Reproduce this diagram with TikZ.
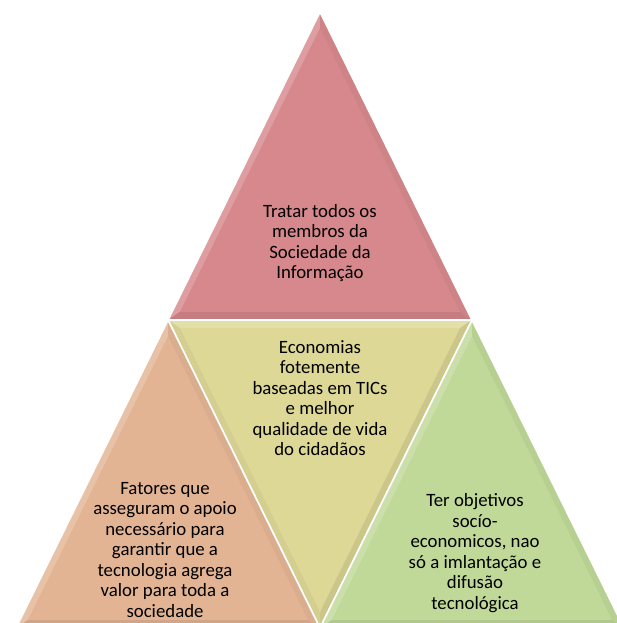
\documentclass[tikz,border=0pt]{standalone}
\usepackage{fontspec}
\setmainfont{Carlito}
\usetikzlibrary{calc}

\definecolor{topred}{RGB}{214,136,140}
\definecolor{midyellow}{RGB}{221,216,150}
\definecolor{leftpeach}{RGB}{226,180,148}
\definecolor{rightgreen}{RGB}{192,216,152}

\tikzset{
	label text/.style={font=\fontsize{18.8}{20.5}\selectfont, align=center, text=black},
	gap/.style={draw=white, line width=1.6pt, line join=miter},
}

% bevelled triangle: corners #1 #2 #3, colour #4
% edge #1-#2 light, #2-#3 dark, #3-#1 medium
\newcommand{\bevtri}[4]{%
	\coordinate (tc) at (barycentric cs:#1=1,#2=1,#3=1);
	\coordinate (t1) at ($(#1)!0.08!(tc)$);
	\coordinate (t2) at ($(#2)!0.08!(tc)$);
	\coordinate (t3) at ($(#3)!0.08!(tc)$);
	\fill[#4] (#1)--(#2)--(#3)--cycle;
	\fill[#4!82!white] (#1)--(#2)--(t2)--(t1)--cycle;
	\fill[#4!92!black] (#2)--(#3)--(t3)--(t2)--cycle;
	\fill[#4!96!black] (#3)--(#1)--(t1)--(t3)--cycle;
	\fill[#4] (t1)--(t2)--(t3)--cycle;
	\draw[gap] (#1)--(#2)--(#3)--cycle;
}

\begin{document}
\begin{tikzpicture}[x=1pt,y=-1pt]
	\clip (0,0) rectangle (617,623);
	\coordinate (apex) at (320,12);
	\coordinate (ml) at (168,320);
	\coordinate (mr) at (472,320);
	\coordinate (bl) at (16,628);
	\coordinate (bm) at (320,628);
	\coordinate (br) at (624,628);

	\bevtri{apex}{ml}{mr}{topred}
	\bevtri{ml}{mr}{bm}{midyellow}
	\bevtri{ml}{bl}{bm}{leftpeach}
	\bevtri{mr}{bm}{br}{rightgreen}

	\node[label text] (top) at (320,243) {Tratar todos os\\membros da\\Sociedade da\\Informação};
	\node[label text] (mid) at (320,398) {Economias\\fotemente\\baseadas em TICs\\e melhor\\qualidade de vida\\do cidadãos};
	\node[label text] (left) at (165,550) {Fatores que\\asseguram o apoio\\necessário para\\garantir que a\\tecnologia agrega\\valor para toda a\\sociedade};
	\node[label text] (right) at (475,553) {Ter objetivos\\socío-\\economicos, nao\\só a imlantação e\\difusão\\tecnológica};
\end{tikzpicture}
\end{document}
